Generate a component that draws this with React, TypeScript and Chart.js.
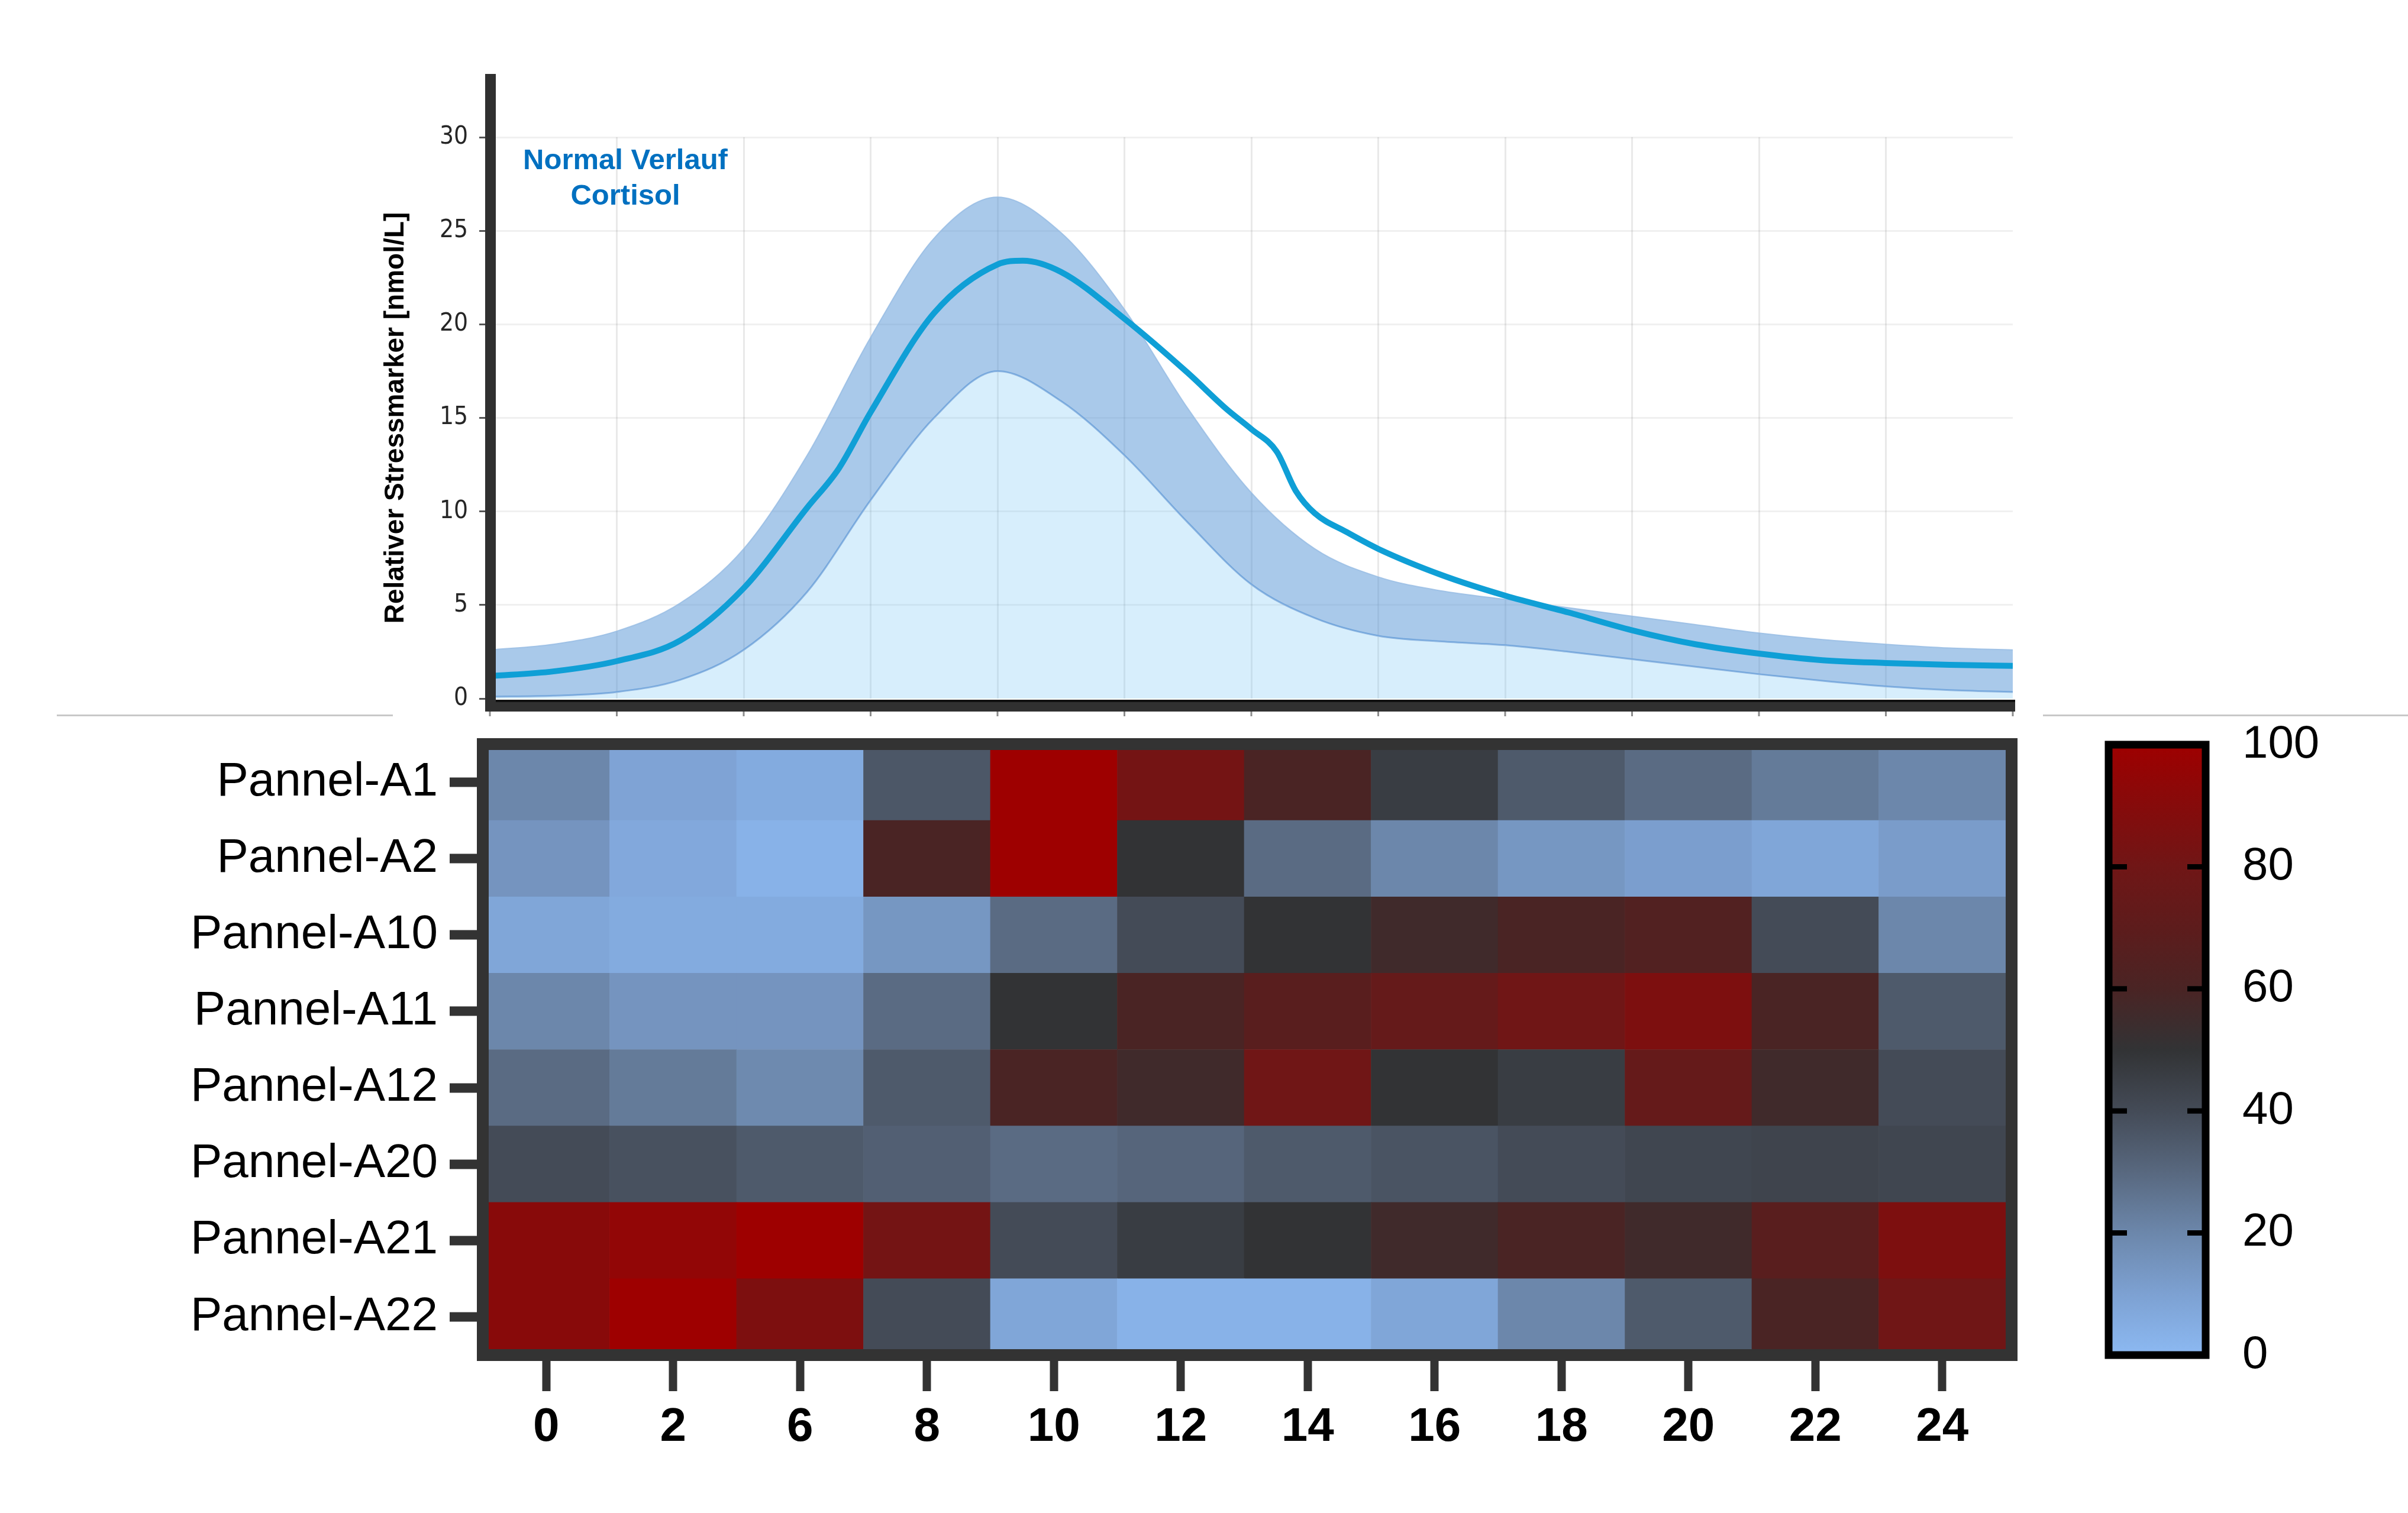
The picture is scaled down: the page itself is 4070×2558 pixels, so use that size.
import React, { useEffect, useRef } from 'react';
import { Chart, registerables } from 'chart.js';

Chart.register(...registerables);

// ---------------- data ----------------
const HOURS = ['0', '2', '6', '8', '10', '12', '14', '16', '18', '20', '22', '24'];
const PANELS = ['Pannel-A1', 'Pannel-A2', 'Pannel-A10', 'Pannel-A11', 'Pannel-A12', 'Pannel-A20', 'Pannel-A21', 'Pannel-A22'];

const ROW_A1 = [20, 9, 6, 36, 100, 82, 60, 46, 35, 29, 24, 20];
const ROW_A2 = [15, 7, 3, 60, 100, 50, 29, 20, 14, 11, 8, 12];
const ROW_A10 = [8, 6, 6, 14, 29, 40, 50, 56, 60, 64, 40, 20];
const ROW_A11 = [20, 15, 15, 29, 50, 60, 68, 74, 80, 86, 60, 35];
const ROW_A12 = [29, 24, 19, 35, 60, 56, 80, 50, 46, 74, 56, 40];
const ROW_A20 = [40, 38, 35, 33, 29, 31, 35, 37, 40, 42, 43, 42];
const ROW_A21 = [91, 95, 100, 82, 40, 46, 50, 56, 60, 56, 68, 86];
const ROW_A22 = [91, 100, 86, 40, 8, 3, 3, 8, 20, 35, 60, 80];
const HEAT_ROWS = [ROW_A1, ROW_A2, ROW_A10, ROW_A11, ROW_A12, ROW_A20, ROW_A21, ROW_A22];

// cortisol curve (x in column-index units, 0..12)
const BAND_T = [0, 0.5, 1, 1.5, 2, 2.5, 3, 3.5, 4, 4.5, 5, 5.5, 6, 6.5, 7, 7.5, 8, 8.5, 9, 9.5, 10, 10.5, 11, 11.5, 12];
const BAND_UPPER = [2.6, 2.9, 3.6, 5.1, 8.0, 13.0, 19.3, 24.6, 26.8, 24.9, 20.8, 15.5, 11.0, 8.0, 6.5, 5.75, 5.3, 4.85, 4.4, 3.95, 3.5, 3.15, 2.9, 2.7, 2.6];
const BAND_LOWER = [0.1, 0.15, 0.35, 1.0, 2.6, 5.7, 10.6, 15.0, 17.5, 15.9, 13.0, 9.4, 6.1, 4.3, 3.35, 3.05, 2.85, 2.5, 2.1, 1.7, 1.3, 0.95, 0.65, 0.45, 0.35];
const MEAN_T = [0, 0.5, 1, 1.5, 2, 2.5, 2.75, 3, 3.5, 4, 4.2, 4.5, 5, 5.5, 5.8, 6, 6.2, 6.35, 6.5, 6.75, 7, 7.5, 8, 8.5, 9, 9.5, 10, 10.5, 11, 11.5, 12];
const MEAN_VALUES = [1.2, 1.45, 2.0, 3.1, 5.9, 10.2, 12.3, 15.3, 20.6, 23.2, 23.4, 22.8, 20.3, 17.4, 15.5, 14.4, 13.2, 11.1, 9.9, 8.9, 8.0, 6.6, 5.5, 4.6, 3.65, 2.9, 2.4, 2.05, 1.9, 1.8, 1.75];

const Y_MAX = 30;
const Y_STEP = 5;
const CBAR_TICKS = [0, 20, 40, 60, 80, 100];
const ANNOT_LINES = ['Normal Verlauf', 'Cortisol'];

// colour map (value -> colour)
const CMAP_VALUES = [0, 10, 20, 30, 40, 50, 60, 70, 80, 90, 100];
const CMAP_COLORS = ['#8cb9f2', '#7da1d2', '#6c87ab', '#58687f', '#444b57', '#323335', '#4a2424', '#5d1c1c', '#701616', '#860b0b', '#9e0000'];

const SANS = '"Liberation Sans", Arial, Helvetica, sans-serif';
const NARROW = '"Liberation Sans Narrow", "Arial Narrow", "DejaVu Sans Condensed", "Liberation Sans", sans-serif';

function hexToRgb(h: string) {
  return [parseInt(h.slice(1, 3), 16), parseInt(h.slice(3, 5), 16), parseInt(h.slice(5, 7), 16)];
}
function colorFor(v: number) {
  for (let i = 0; i < CMAP_VALUES.length - 1; i++) {
    const a = CMAP_VALUES[i], b = CMAP_VALUES[i + 1];
    if (v <= b || i === CMAP_VALUES.length - 2) {
      const f = Math.max(0, Math.min(1, (v - a) / (b - a)));
      const c1 = hexToRgb(CMAP_COLORS[i]), c2 = hexToRgb(CMAP_COLORS[i + 1]);
      const c = c1.map((x, k) => Math.round(x + (c2[k] - x) * f));
      return `rgb(${c[0]},${c[1]},${c[2]})`;
    }
  }
  return CMAP_COLORS[0];
}

// ---------------- plugins ----------------
const topDecor = {
  id: 'topDecor',
  afterDatasetsDraw(chart: any) {
    const { ctx, chartArea: a, scales } = chart;
    ctx.save();
    // x axis bar
    ctx.fillStyle = '#303030';
    ctx.fillRect(a.left - 8, a.bottom + 2, a.right - a.left + 12, 20);
    ctx.fillStyle = '#111111';
    ctx.fillRect(a.left - 8, a.bottom + 2, a.right - a.left + 12, 4);
    // y axis bar
    ctx.fillStyle = '#303030';
    ctx.fillRect(a.left - 8, a.top - 107, 18, a.bottom - a.top + 107 + 22);
    // small ticks below x axis
    ctx.strokeStyle = '#8c8c8c';
    ctx.lineWidth = 3;
    for (let t = 0; t <= HOURS.length; t++) {
      const x = scales.x.getPixelForValue(t);
      ctx.beginPath();
      ctx.moveTo(x, a.bottom + 22);
      ctx.lineTo(x, a.bottom + 30);
      ctx.stroke();
    }
    // annotation
    ctx.fillStyle = '#0070c0';
    ctx.font = `bold 49px ${SANS}`;
    ctx.textAlign = 'center';
    ctx.textBaseline = 'alphabetic';
    const ax = a.left + 229;
    ctx.fillText(ANNOT_LINES[0], ax, scales.y.getPixelForValue(Y_MAX) + 54);
    ctx.fillText(ANNOT_LINES[1], ax, scales.y.getPixelForValue(Y_MAX) + 114);
    ctx.restore();
  },
};

const heatFrame = {
  id: 'heatFrame',
  afterDatasetsDraw(chart: any) {
    const { ctx, chartArea: a } = chart;
    ctx.save();
    ctx.strokeStyle = '#333333';
    ctx.lineWidth = 20;
    ctx.strokeRect(a.left, a.top, a.right - a.left + 10, a.bottom - a.top);
    ctx.restore();
  },
};

const cbarDecor = {
  id: 'cbarDecor',
  afterDatasetsDraw(chart: any) {
    const { ctx, chartArea: a, scales } = chart;
    ctx.save();
    ctx.strokeStyle = '#000000';
    ctx.lineWidth = 9;
    CBAR_TICKS.filter((v) => v > 0 && v < 100).forEach((v) => {
      const y = scales.y.getPixelForValue(v);
      ctx.beginPath();
      ctx.moveTo(a.left, y);
      ctx.lineTo(a.left + 31, y);
      ctx.moveTo(a.right - 31, y);
      ctx.lineTo(a.right, y);
      ctx.stroke();
    });
    ctx.lineWidth = 13;
    ctx.strokeRect(a.left, a.top, a.right - a.left, a.bottom - a.top);
    ctx.restore();
  },
};

export default function App() {
  const topRef = useRef<HTMLCanvasElement>(null);
  const heatRef = useRef<HTMLCanvasElement>(null);
  const cbarRef = useRef<HTMLCanvasElement>(null);

  useEffect(() => {
    const charts: Chart[] = [];

    // ---- top line chart ----
    charts.push(
      new Chart(topRef.current as HTMLCanvasElement, {
        type: 'line',
        data: {
          datasets: [
            {
              label: 'lower',
              data: BAND_T.map((t, i) => ({ x: t, y: BAND_LOWER[i] })),
              fill: 'origin',
              backgroundColor: 'rgba(95,187,243,0.25)',
              borderColor: '#8fb7e2',
              borderWidth: 3,
              pointRadius: 0,
              cubicInterpolationMode: 'monotone',
              order: 2,
            },
            {
              label: 'upper',
              data: BAND_T.map((t, i) => ({ x: t, y: BAND_UPPER[i] })),
              fill: '-1',
              backgroundColor: 'rgba(83,147,213,0.5)',
              borderColor: 'rgba(150,188,228,0.8)',
              borderWidth: 2,
              pointRadius: 0,
              cubicInterpolationMode: 'monotone',
              order: 1,
            },
            {
              label: 'mean',
              data: MEAN_T.map((t, i) => ({ x: t, y: MEAN_VALUES[i] })),
              fill: false,
              borderColor: '#0f9fd6',
              borderWidth: 10,
              pointRadius: 0,
              cubicInterpolationMode: 'monotone',
              order: 0,
            },
          ],
        } as any,
        options: {
          animation: false,
          responsive: false,
          maintainAspectRatio: false,
          devicePixelRatio: 1,
          events: [],
          layout: { padding: { left: 0, right: 38, top: 132, bottom: 0 } },
          plugins: { legend: { display: false }, tooltip: { enabled: false } },
          scales: {
            x: {
              type: 'linear',
              min: 0,
              max: HOURS.length,
              ticks: { display: false, stepSize: 1 },
              grid: {
                color: (c: any) => (c.tick && (c.tick.value === 0 || c.tick.value === HOURS.length) ? 'rgba(0,0,0,0)' : 'rgba(0,0,0,0.085)'),
                lineWidth: 3,
                drawTicks: false,
              },
              border: { display: false },
              afterFit: (s: any) => { s.height = 49; },
            },
            y: {
              min: 0,
              max: Y_MAX,
              ticks: { stepSize: Y_STEP, font: { family: NARROW, size: 42 }, color: '#262626', padding: 19 },
              grid: {
                color: (c: any) => (c.tick && c.tick.value === 0 ? 'rgba(0,0,0,0)' : 'rgba(0,0,0,0.06)'),
                lineWidth: 3,
                tickLength: 18,
                tickColor: '#555555',
                tickWidth: 3,
              },
              border: { display: false },
              title: {
                display: true,
                text: 'Relativer Stressmarker [nmol/L]',
                font: { family: SANS, size: 46, weight: 'bold' },
                color: '#000000',
                padding: { top: 42, bottom: 0 },
              },
              afterFit: (s: any) => { s.width = 228; },
            },
          },
        } as any,
        plugins: [topDecor],
      })
    );

    // ---- heatmap ----
    const bottomUp = HEAT_ROWS.slice().reverse();
    charts.push(
      new Chart(heatRef.current as HTMLCanvasElement, {
        type: 'bar',
        data: {
          labels: HOURS,
          datasets: bottomUp.map((row, i) => ({
            label: PANELS[PANELS.length - 1 - i],
            data: row.map(() => 1),
            backgroundColor: row.map((v) => colorFor(v)),
            borderWidth: 0,
            barPercentage: 1,
            categoryPercentage: 1,
            stack: 'rows',
          })),
        },
        options: {
          animation: false,
          responsive: false,
          maintainAspectRatio: false,
          devicePixelRatio: 1,
          events: [],
          layout: { padding: { left: 0, right: 30, top: 28, bottom: 0 } },
          plugins: { legend: { display: false }, tooltip: { enabled: false } },
          scales: {
            x: {
              stacked: true,
              offset: true,
              grid: { offset: false, drawOnChartArea: false, drawTicks: true, tickLength: 61, tickWidth: 14, tickColor: '#333333' },
              border: { display: false },
              ticks: { font: { family: SANS, size: 80, weight: 'bold' }, color: '#000000', padding: 14, maxRotation: 0, autoSkip: false },
              afterFit: (s: any) => { s.height = 209; s.paddingLeft = 0; s.paddingRight = 0; },
            },
            y: {
              stacked: true,
              min: 0,
              max: PANELS.length,
              afterBuildTicks: (s: any) => { s.ticks = PANELS.map((_, i) => ({ value: i + 0.5 })); },
              ticks: {
                autoSkip: false,
                callback: (v: any) => PANELS[PANELS.length - 1 - Math.floor(Number(v))],
                font: { family: SANS, size: 80 },
                color: '#000000',
                padding: 20,
              },
              grid: { drawOnChartArea: false, tickLength: 56, tickWidth: 16, tickColor: '#333333' },
              border: { display: false },
              afterFit: (s: any) => { s.width = 716; s.paddingTop = 0; s.paddingBottom = 0; },
            },
          },
        } as any,
        plugins: [heatFrame],
      })
    );

    // ---- colour bar ----
    charts.push(
      new Chart(cbarRef.current as HTMLCanvasElement, {
        type: 'bar',
        data: {
          labels: [''],
          datasets: [
            {
              data: [[CBAR_TICKS[0], CBAR_TICKS[CBAR_TICKS.length - 1]]],
              backgroundColor: (c: any) => {
                const a = c.chart.chartArea;
                if (!a) return CMAP_COLORS[0];
                const g = c.chart.ctx.createLinearGradient(0, a.bottom, 0, a.top);
                CMAP_VALUES.forEach((v, i) => g.addColorStop(v / 100, CMAP_COLORS[i]));
                return g;
              },
              borderWidth: 0,
              barPercentage: 1,
              categoryPercentage: 1,
            },
          ],
        } as any,
        options: {
          animation: false,
          responsive: false,
          maintainAspectRatio: false,
          devicePixelRatio: 1,
          events: [],
          layout: { padding: { left: 24, right: 0, top: 59, bottom: 69 } },
          plugins: { legend: { display: false }, tooltip: { enabled: false } },
          scales: {
            x: { display: false },
            y: {
              position: 'right',
              min: 0,
              max: 100,
              afterBuildTicks: (s: any) => { s.ticks = CBAR_TICKS.map((v) => ({ value: v })); },
              ticks: { font: { family: SANS, size: 78 }, color: '#000000', padding: 62 },
              grid: { display: false, drawTicks: false },
              border: { display: false },
              afterFit: (s: any) => { s.width = 272; s.paddingTop = 0; s.paddingBottom = 0; },
            },
          },
        } as any,
        plugins: [cbarDecor],
      })
    );

    return () => charts.forEach((c) => c.destroy());
  }, []);

  const abs = (l: number, t: number, w: number, h: number): React.CSSProperties => ({
    position: 'absolute', left: l, top: t, width: w, height: h,
  });

  return (
    <div style={{ position: 'absolute', left: 0, top: 0, width: 4070, height: 2558, background: '#ffffff', overflow: 'hidden' }}>
      <div style={{ ...abs(96, 1208, 568, 3), background: '#c8c8c8' }} />
      <div style={{ ...abs(3453, 1208, 617, 3), background: '#c8c8c8' }} />
      <canvas ref={topRef} width={2840} height={1130} style={abs(600, 100, 2840, 1130)} />
      <canvas ref={heatRef} width={3320} height={1270} style={abs(100, 1230, 3320, 1270)} />
      <canvas ref={cbarRef} width={460} height={1160} style={abs(3540, 1200, 460, 1160)} />
    </div>
  );
}
